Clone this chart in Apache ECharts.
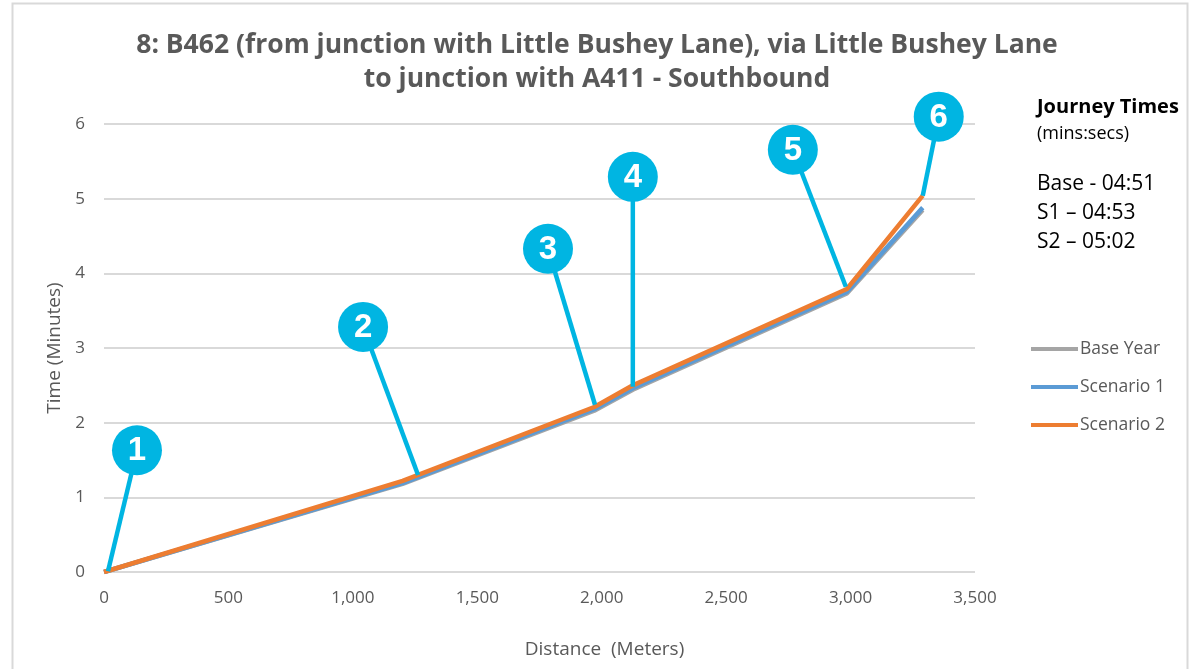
<!DOCTYPE html>
<html>
<head>
<meta charset="utf-8">
<script src="https://cdn.jsdelivr.net/npm/echarts@6/dist/echarts.min.js"></script>
<style>
  html, body { margin: 0; padding: 0; background: #fff; }
  #chart { width: 1198px; height: 669px; }
</style>
</head>
<body>
<div id="chart"></div>
<script>
// ---- data ----
const distance = [0, 1200, 1970, 2125, 2985, 3290];
const baseYear = [0, 1.18, 2.16, 2.44, 3.73, 4.85];
const scenario1 = [0, 1.19, 2.18, 2.46, 3.75, 4.88];
const scenario2 = [0, 1.22, 2.21, 2.50, 3.79, 5.04];
const seriesNames = ['Base Year', 'Scenario 1', 'Scenario 2'];
const xTicks = [0, 500, 1000, 1500, 2000, 2500, 3000, 3500];
const yTicks = [0, 1, 2, 3, 4, 5, 6];
const calloutLabels = ['1', '2', '3', '4', '5', '6'];
const calloutDist = [16, 1262, 1973, 2125, 2981, 3290];
const calloutTime = [0.01, 1.30, 2.24, 2.48, 3.82, 5.04];
const journeyLines = ['Base - 04:51', 'S1 \u2013 04:53', 'S2 \u2013 05:02'];

// ---- layout (pixel offsets of callout bubbles from their anchor) ----
const calloutOffset = [[29, -121], [-55, -148], [-47, -156], [0, -210], [-53, -137], [16, -79]];

const FONT = 'Open Sans';
const CYAN = '#00B5E2';
const pair = (xs, ys) => xs.map((x, i) => [x, ys[i]]);

const chart = echarts.init(document.getElementById('chart'), null, { renderer: 'canvas' });
const option = {
  animation: false,
  backgroundColor: '#fff',
  title: {
    text: '8: B462 (from junction with Little Bushey Lane), via Little Bushey Lane\nto junction with A411 - Southbound',
    left: 592, top: 23, textAlign: 'center',
    textStyle: { fontFamily: FONT, fontWeight: 'bold', fontSize: 26.5, color: '#595959', lineHeight: 34 }
  },
  grid: { left: 104, right: 223, top: 124, bottom: 97 },
  legend: {
    orient: 'vertical', left: 1031, top: 339, padding: 0,
    icon: 'rect', itemWidth: 47, itemHeight: 4, itemGap: 18,
    textStyle: { fontFamily: FONT, fontSize: 17.5, color: '#595959', lineHeight: 20, padding: [0, 0, 0, -3] },
    data: seriesNames
  },
  xAxis: {
    type: 'value', min: xTicks[0], max: xTicks[xTicks.length - 1], interval: 500,
    name: 'Distance  (Meters)', nameLocation: 'middle', nameGap: 68,
    nameTextStyle: { fontFamily: FONT, fontSize: 19, color: '#595959', padding: [0, 0, 0, 130] },
    axisLine: { show: false }, axisTick: { show: false },
    splitLine: { show: false },
    axisLabel: { fontFamily: FONT, fontSize: 17, color: '#595959', margin: 18,
      formatter: v => v.toLocaleString('en-US') }
  },
  yAxis: {
    type: 'value', min: yTicks[0], max: yTicks[yTicks.length - 1], interval: 1,
    name: 'Time (Minutes)', nameLocation: 'middle', nameGap: 40, nameRotate: 90,
    nameTextStyle: { fontFamily: FONT, fontSize: 19, color: '#595959' },
    axisLine: { show: false }, axisTick: { show: false },
    splitLine: { show: true, lineStyle: { color: '#d9d9d9', width: 2 } },
    axisLabel: { fontFamily: FONT, fontSize: 17, color: '#595959', margin: 19 }
  },
  series: [
    { name: seriesNames[0], type: 'line', data: pair(distance, baseYear), symbol: 'none',
      lineStyle: { color: '#A5A5A5', width: 4.5 }, itemStyle: { color: '#A5A5A5' }, z: 2 },
    { name: seriesNames[1], type: 'line', data: pair(distance, scenario1), symbol: 'none',
      lineStyle: { color: '#5B9BD5', width: 4.5 }, itemStyle: { color: '#5B9BD5' }, z: 3 },
    { name: seriesNames[2], type: 'line', data: pair(distance, scenario2), symbol: 'none',
      lineStyle: { color: '#ED7D31', width: 4.5 }, itemStyle: { color: '#ED7D31' }, z: 4 }
  ]
};
chart.setOption(option);

// ---- annotations positioned through the chart's own scales ----
const g = [];
g.push({ type: 'rect', shape: { x: 12.5, y: 3.5, width: 1175, height: 700 },
  style: { fill: 'none', stroke: '#d9d9d9', lineWidth: 2 }, z: 0, silent: true });
calloutLabels.forEach((lab, i) => {
  const p = chart.convertToPixel({ gridIndex: 0 }, [calloutDist[i], calloutTime[i]]);
  const cx = p[0] + calloutOffset[i][0], cy = p[1] + calloutOffset[i][1];
  g.push({ type: 'line', shape: { x1: p[0], y1: p[1], x2: cx, y2: cy },
    style: { stroke: CYAN, lineWidth: 4.5 }, z: 50 });
  g.push({ type: 'circle', shape: { cx: cx, cy: cy, r: 25 }, style: { fill: CYAN }, z: 51 });
  g.push({ type: 'text', x: cx, y: cy + 1, style: { text: lab, fill: '#fff', font: 'bold 33px Arial',
    align: 'center', verticalAlign: 'middle' }, z: 52 });
});
g.push({ type: 'text', x: 1037, y: 107, style: { text: 'Journey Times', fill: '#000',
  font: 'bold 20px "Open Sans"', verticalAlign: 'middle' }, z: 60 });
g.push({ type: 'text', x: 1037, y: 134, style: { text: '(mins:secs)', fill: '#000',
  font: '18px "Open Sans"', verticalAlign: 'middle' }, z: 60 });
journeyLines.forEach((t, i) => {
  g.push({ type: 'text', x: 1037, y: 184 + i * 29, style: { text: t, fill: '#000',
    font: '21px "Open Sans"', verticalAlign: 'middle' }, z: 60 });
});
chart.setOption({ graphic: g });
</script>
</body>
</html>
